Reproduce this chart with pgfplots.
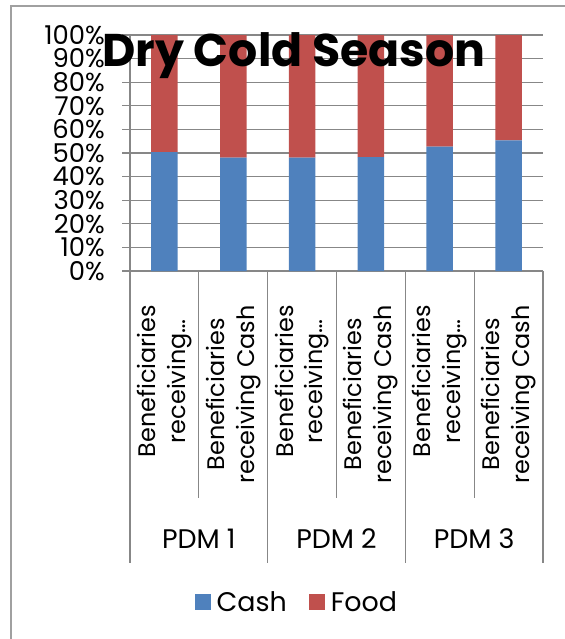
\documentclass[border=0pt]{standalone}
\usepackage{pgfplots}
\pgfplotsset{compat=1.18}
\usepackage{fontspec}
\setmainfont{Poppins}
\definecolor{cashblue}{HTML}{4F81BD}
\definecolor{foodred}{HTML}{C0504D}
\definecolor{gridgray}{HTML}{878787}
\definecolor{framegray}{HTML}{A0A0A0}
\newcommand{\lblfont}{\fontsize{24}{30}\selectfont}
\newcommand{\bigfont}{\fontsize{27}{32}\selectfont}
\begin{document}
\begin{tikzpicture}
\useasboundingbox (0bp,0bp) rectangle (565bp,-639bp);
\draw[framegray, line width=2bp] (11bp,-639bp) -- (11bp,-6bp) -- (565bp,-6bp);
\begin{axis}[
  at={(130bp,-271bp)}, anchor=south west,
  scale only axis, width=413bp, height=236bp,
  ybar stacked, bar width=26.5bp,
  xmin=-0.5, xmax=5.5, ymin=0, ymax=1,
  clip=false,
  axis lines*=left,
  axis line style={gridgray, line width=1.2bp},
  ymajorgrids, grid style={gridgray, line width=1.2bp},
  tick align=outside, major tick length=8bp,
  xtick={0,...,5}, xtick style={draw=none},
  ytick={0,0.1,...,1}, ytick style={gridgray, line width=1.2bp},
  yticklabels={0\%,10\%,20\%,30\%,40\%,50\%,60\%,70\%,80\%,90\%,100\%},
  yticklabel style={font=\fontsize{26}{30}\selectfont, inner sep=0pt, anchor=east, xshift=-17bp},
  xticklabels={{Beneficiaries\\receiving…},{Beneficiaries\\receiving Cash},
               {Beneficiaries\\receiving…},{Beneficiaries\\receiving Cash},
               {Beneficiaries\\receiving…},{Beneficiaries\\receiving Cash}},
  xticklabel style={font=\lblfont, rotate=90, anchor=east, align=center, inner sep=0pt},
  xticklabel shift=26bp,
  title={Dry Cold Season},
  title style={font=\fontsize{46}{50}\selectfont\bfseries, at={(axis description cs:0.397,0.843)}, anchor=base, inner sep=0pt},
  legend columns=2,
  legend style={at={(axis description cs:0.404,-1.403)}, anchor=center, draw=none, fill=none,
    font=\bigfont,
    /tikz/every odd column/.append style={column sep=4bp},
    /tikz/every even column/.append style={column sep=20bp}},
  legend image code/.code={\fill[#1] (0bp,-8bp) rectangle (16bp,8bp);},
]
\addplot[fill=cashblue, draw=none] coordinates {(0,0.504) (1,0.480) (2,0.480) (3,0.483) (4,0.527) (5,0.554)};
\addplot[fill=foodred, draw=none] coordinates {(0,0.496) (1,0.520) (2,0.520) (3,0.517) (4,0.473) (5,0.446)};
\legend{Cash, Food}
% category separators and group labels
\draw[gridgray, line width=1.2bp] (axis cs:0.5,0) -- (axis cs:0.5,-0.962);
\draw[gridgray, line width=1.2bp] (axis cs:2.5,0) -- (axis cs:2.5,-0.962);
\draw[gridgray, line width=1.2bp] (axis cs:4.5,0) -- (axis cs:4.5,-0.962);
\draw[gridgray, line width=1.2bp] (axis cs:-0.5,0) -- (axis cs:-0.5,-1.237);
\draw[gridgray, line width=1.2bp] (axis cs:1.5,0) -- (axis cs:1.5,-1.237);
\draw[gridgray, line width=1.2bp] (axis cs:3.5,0) -- (axis cs:3.5,-1.237);
\draw[gridgray, line width=1.2bp] (axis cs:5.5,0) -- (axis cs:5.5,-1.237);
\node[font=\bigfont, anchor=base] at (axis cs:0.5,-1.174) {PDM 1};
\node[font=\bigfont, anchor=base] at (axis cs:2.5,-1.174) {PDM 2};
\node[font=\bigfont, anchor=base] at (axis cs:4.5,-1.174) {PDM 3};
\end{axis}
\end{tikzpicture}
\end{document}
